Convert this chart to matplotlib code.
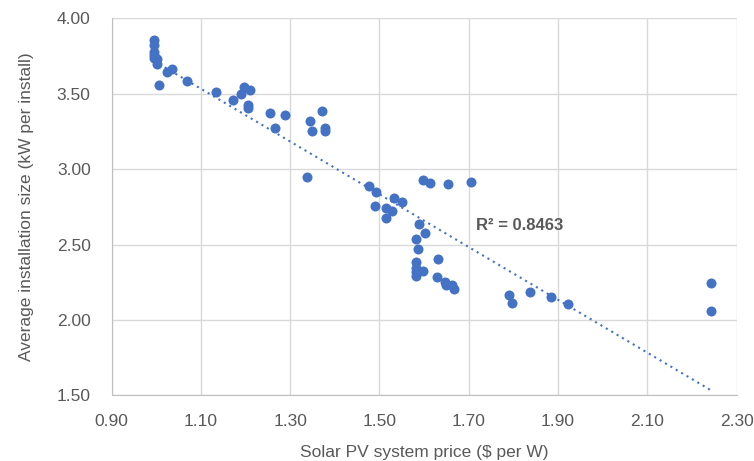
import numpy as np
import matplotlib.pyplot as plt

plt.rcParams['font.family'] = ['Liberation Sans', 'DejaVu Sans']

# price ($ per W) and average installation size (kW per install)
price = [0.995, 0.995, 0.995, 0.995, 0.995, 1.003, 1.003, 1.007, 1.025, 1.036, 1.068,
         1.133, 1.172, 1.189, 1.197, 1.210, 1.206, 1.206, 1.254, 1.267, 1.289,
         1.345, 1.350, 1.371, 1.378, 1.378, 1.337,
         1.476, 1.493, 1.490, 1.515, 1.515, 1.528, 1.533, 1.550,
         1.598, 1.614, 1.654, 1.706,
         1.589, 1.602, 1.581, 1.586, 1.582, 1.582, 1.583, 1.583, 1.598, 1.632,
         1.628, 1.647, 1.649, 1.663, 1.668,
         1.790, 1.798, 1.838, 1.885, 1.922,
         2.243, 2.243]
size = [3.856, 3.823, 3.776, 3.761, 3.739, 3.732, 3.699, 3.562, 3.643, 3.668, 3.584,
        3.513, 3.460, 3.497, 3.546, 3.524, 3.429, 3.404, 3.371, 3.276, 3.358,
        3.322, 3.254, 3.389, 3.274, 3.256, 2.948,
        2.886, 2.849, 2.758, 2.742, 2.678, 2.725, 2.809, 2.782,
        2.930, 2.911, 2.902, 2.915,
        2.640, 2.576, 2.536, 2.470, 2.386, 2.344, 2.322, 2.293, 2.328, 2.403,
        2.286, 2.253, 2.233, 2.233, 2.209,
        2.164, 2.116, 2.184, 2.155, 2.109,
        2.246, 2.060]
r2_label = 'R² = 0.8463'

x = np.array(price)
y = np.array(size)
slope, icept = np.polyfit(x, y, 1)
xs = np.array([x.min(), x.max()])

blue = '#4472C4'
grey = '#595959'

fig = plt.figure(figsize=(7.54, 4.61), dpi=100)
ax = fig.add_axes([0.1479, 0.1421, 0.8289, 0.8178])

ax.scatter(x, y, s=52, color=blue, zorder=3, linewidths=0)
ax.plot(xs, slope * xs + icept, linestyle=(0, (1, 2)), color=blue, lw=1.5, zorder=2)
ax.text(1.717, 2.624, r2_label, fontsize=12, fontweight='bold', color=grey, va='center')

ax.set_xlim(0.9, 2.3)
ax.set_ylim(1.5, 4.0)
ax.set_xticks(np.arange(0.9, 2.31, 0.2))
ax.set_yticks(np.arange(1.5, 4.01, 0.5))
ax.xaxis.set_major_formatter(plt.FormatStrFormatter('%.2f'))
ax.yaxis.set_major_formatter(plt.FormatStrFormatter('%.2f'))
ax.tick_params(length=0, labelsize=12.5, labelcolor=grey)
ax.tick_params(axis='y', pad=15)
ax.tick_params(axis='x', pad=13)
ax.grid(True, color='#d9d9d9', lw=1)
ax.set_axisbelow(True)
for s in ['top', 'right']:
    ax.spines[s].set_visible(False)
for s in ['left', 'bottom']:
    ax.spines[s].set_color('#bfbfbf')

ax.set_xlabel('Solar PV system price ($ per W)', fontsize=12.5, color=grey, labelpad=12)
ax.set_ylabel('Average installation size (kW per install)', fontsize=12.5, color=grey, labelpad=16)

fig.savefig('out.png', dpi=100)
